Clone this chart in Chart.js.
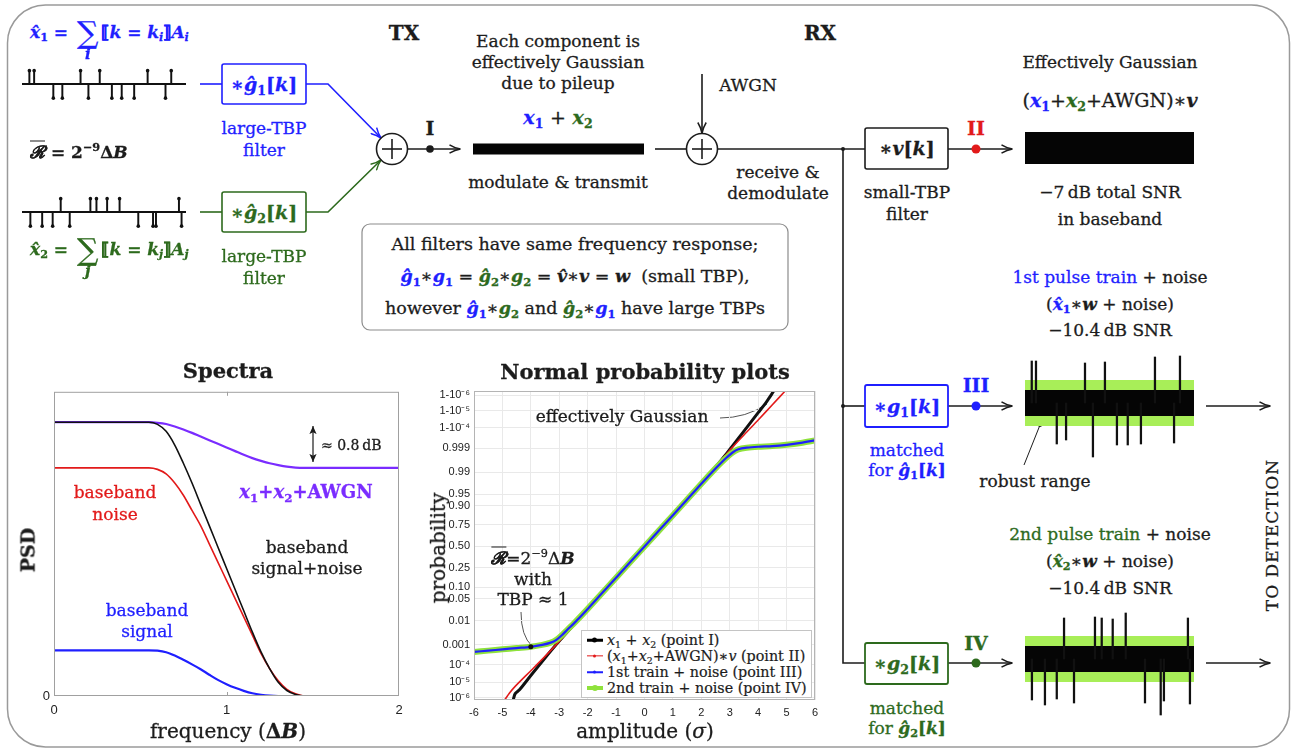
<!DOCTYPE html>
<html>
<head>
<meta charset="utf-8">
<script src="https://cdn.jsdelivr.net/npm/chart.js@4.4.1/dist/chart.umd.min.js"></script>
<style>
html, body { margin: 0; padding: 0; background: #fff; }
#page { position: relative; width: 1299px; height: 751px; overflow: hidden; font-family: 'DejaVu Serif', 'Liberation Serif', serif; color: #1c1c1c; }
svg { position: absolute; left: 0; top: 0; }
.c { position: absolute; }
.t { position: absolute; transform: translate(-50%, -50%); white-space: nowrap; line-height: 1; font-size: 17px; -webkit-text-stroke: 0.3px currentColor; }
.t.l { transform: translate(0, -50%); }
.t.rot { transform: translate(-50%, -50%) rotate(-90deg); }
.m { font-style: italic; font-weight: bold; }
.n { font-style: normal; }
sub { font-size: 0.66em; vertical-align: -0.32em; line-height: 0; font-style: normal; }
sup { font-size: 0.66em; vertical-align: 0.6em; line-height: 0; }
.sig { position: relative; display: inline-block; font-size: 30px; font-style: normal; font-weight: normal; vertical-align: -0.18em; margin: 0 3px; }
.idx { position: absolute; left: 50%; top: 95%; transform: translateX(-50%); font-size: 15px; font-style: italic; font-weight: bold; }
.blue { color: #1f1fff; } .green { color: #2d6a1d; } .red { color: #e21a1a; } .purple { color: #7a2cff; } .blk { color: #1c1c1c; }
#legend { position: absolute; left: 581px; top: 630px; width: 229px; height: 66px; border: 1px solid #c4c4c4; background: #fff; font-size: 14.3px; }
.lg { position: absolute; left: 0; height: 16px; width: 100%; }
.ls { position: absolute; left: 5px; width: 16px; top: 50%; transform: translateY(-50%); }
.ld { position: absolute; left: 10px; width: 5px; height: 5px; border-radius: 50%; top: 50%; transform: translateY(-50%); }
.lt { position: absolute; left: 25px; top: 50%; transform: translateY(-50%); white-space: nowrap; line-height: 1; -webkit-text-stroke: 0.2px currentColor; }
</style>
</head>
<body>
<div id="page">
<svg width="1299" height="751">
  <defs>
    <marker id="ak" viewBox="0 0 12 10" refX="11" refY="5" markerWidth="12" markerHeight="10" markerUnits="userSpaceOnUse" orient="auto"><path d="M0.5,0.8 Q6,4.2 11.5,5 Q6,5.8 0.5,9.2" fill="none" stroke="#1c1c1c" stroke-width="1.5"/></marker>
    <marker id="ab" viewBox="0 0 12 10" refX="11" refY="5" markerWidth="12" markerHeight="10" markerUnits="userSpaceOnUse" orient="auto"><path d="M0.5,0.8 Q6,4.2 11.5,5 Q6,5.8 0.5,9.2" fill="none" stroke="#1f1fff" stroke-width="1.5"/></marker>
    <marker id="ag" viewBox="0 0 12 10" refX="11" refY="5" markerWidth="12" markerHeight="10" markerUnits="userSpaceOnUse" orient="auto"><path d="M0.5,0.8 Q6,4.2 11.5,5 Q6,5.8 0.5,9.2" fill="none" stroke="#2d6a1d" stroke-width="1.5"/></marker>
    <marker id="as" viewBox="0 0 10 10" refX="9" refY="5" markerWidth="9" markerHeight="9" markerUnits="userSpaceOnUse" orient="auto-start-reverse"><path d="M0,1 L9,5 L0,9 L2,5 Z" fill="#1c1c1c"/></marker>
  </defs>
  <rect x="7.5" y="5" width="1282" height="742" rx="38" fill="none" stroke="#9a9a9a" stroke-width="1.5"/>
  <g stroke="#1f1fff" stroke-width="1.6" fill="none">
    <line x1="200" y1="84" x2="222" y2="84"/>
    <rect x="222" y="64" width="84" height="40" rx="2"/>
    <polyline points="306,84 328,84 381,138" marker-end="url(#ab)"/>
  </g>
  <g stroke="#2d6a1d" stroke-width="1.6" fill="none">
    <line x1="200" y1="212" x2="222" y2="212"/>
    <rect x="222" y="192" width="84" height="40" rx="2"/>
    <polyline points="306,212 328,212 381,160" marker-end="url(#ag)"/>
  </g>
  <g stroke="#1c1c1c" stroke-width="1.6" fill="none">
    <circle cx="392" cy="149" r="15.5"/>
    <line x1="382" y1="149" x2="402" y2="149"/><line x1="392" y1="139" x2="392" y2="159"/>
    <line x1="407.5" y1="149" x2="460" y2="149" marker-end="url(#ak)"/>
    <line x1="655" y1="149" x2="686.5" y2="149"/>
    <circle cx="702" cy="149" r="15.5"/>
    <line x1="692" y1="149" x2="712" y2="149"/><line x1="702" y1="139" x2="702" y2="159"/>
    <line x1="702" y1="74" x2="702" y2="133" marker-end="url(#ak)"/>
    <line x1="717.5" y1="149" x2="865" y2="149"/>
    <rect x="865" y="128" width="83" height="41" rx="2"/>
    <line x1="948" y1="149" x2="1012" y2="149" marker-end="url(#ak)"/>
    <polyline points="843,149 843,663 865,663"/>
    <line x1="843" y1="406" x2="865" y2="406"/>
    <line x1="948" y1="406" x2="1012" y2="406" marker-end="url(#ak)"/>
    <line x1="948" y1="663" x2="1012" y2="663" marker-end="url(#ak)"/>
    <line x1="1206" y1="406" x2="1270" y2="406" marker-end="url(#ak)"/>
    <line x1="1206" y1="663" x2="1270" y2="663" marker-end="url(#ak)"/>
    <line x1="1040" y1="425" x2="1024" y2="465" stroke-width="1"/>
  </g>
  <rect x="865" y="385" width="83" height="42" rx="2" fill="none" stroke="#1f1fff" stroke-width="1.8"/>
  <rect x="865" y="643" width="83" height="41" rx="2" fill="none" stroke="#2d6a1d" stroke-width="1.8"/>
  <circle cx="430" cy="149" r="3.8" fill="#1c1c1c"/>
  <circle cx="843" cy="149" r="2" fill="#1c1c1c"/>
  <circle cx="843" cy="406" r="2" fill="#1c1c1c"/>
  <circle cx="976" cy="149" r="4.5" fill="#e21a1a"/>
  <circle cx="976" cy="406" r="4.5" fill="#1f1fff"/>
  <circle cx="976" cy="663" r="4.5" fill="#2d6a1d"/>
  <circle cx="1040" cy="425" r="2" fill="#1c1c1c"/>
  <rect x="362" y="224" width="426" height="106" rx="8" fill="none" stroke="#8c8c8c" stroke-width="1.2"/>
  <line x1="313" y1="426" x2="313" y2="462" stroke="#1c1c1c" stroke-width="1.2" marker-start="url(#as)" marker-end="url(#as)"/>
  <path d="M720,418 Q746,418 767,404" fill="none" stroke="#555" stroke-width="1"/>
  <path d="M521,612 Q521,636 532,646" fill="none" stroke="#555" stroke-width="1"/>
</svg>

<div class="c" style="left:18px;top:60px;width:172px;height:48px"><canvas id="train1"></canvas></div>
<div class="c" style="left:18px;top:188px;width:172px;height:48px"><canvas id="train2"></canvas></div>
<div class="c" style="left:473px;top:139px;width:171px;height:20px"><canvas id="traceI"></canvas></div>
<div class="c" style="left:1025px;top:118px;width:169px;height:60px"><canvas id="traceII"></canvas></div>
<div class="c" style="left:1025px;top:343px;width:169px;height:120px"><canvas id="traceIII"></canvas></div>
<div class="c" style="left:1025px;top:599px;width:169px;height:120px"><canvas id="traceIV"></canvas></div>
<div class="c" style="left:20px;top:380px;width:390px;height:340px"><canvas id="spectra"></canvas></div>
<div class="c" style="left:410px;top:380px;width:415px;height:345px"><canvas id="normplot"></canvas></div>

<div class="t l blue m" style="left:30px;top:33px">x&#770;<sub>1</sub> = <span class="sig">&sum;<span class="idx">i</span></span><span class="n">&#10214;</span>k = k<sub class="m">i</sub><span class="n">&#10215;</span>A<sub class="m">i</sub></div>
<div class="t l m blk" style="left:30px;top:152px"><span style="text-decoration:overline">&#8475;</span> <span class="n">=</span> <span class="n">2<sup>&minus;9</sup>&Delta;</span>B</div>
<div class="t l green m" style="left:30px;top:250px">x&#770;<sub>2</sub> = <span class="sig">&sum;<span class="idx">j</span></span><span class="n">&#10214;</span>k = k<sub class="m">j</sub><span class="n">&#10215;</span>A<sub class="m">j</sub></div>

<div class="t blue m" style="left:264px;top:84px;font-size:19px"><span class="n">&lowast;</span>&#285;<sub>1</sub><span class="n">[</span>k<span class="n">]</span></div>
<div class="t green m" style="left:264px;top:212px;font-size:19px"><span class="n">&lowast;</span>&#285;<sub>2</sub><span class="n">[</span>k<span class="n">]</span></div>
<div class="t blue" style="left:264px;top:128px">large-TBP</div>
<div class="t blue" style="left:264px;top:150px">filter</div>
<div class="t green" style="left:264px;top:256px">large-TBP</div>
<div class="t green" style="left:264px;top:278px">filter</div>

<div class="t" style="left:404px;top:33px;font-size:20px;font-weight:bold">TX</div>
<div class="t" style="left:820px;top:33px;font-size:20px;font-weight:bold">RX</div>
<div class="t" style="left:430px;top:128px;font-size:19px;font-weight:bold">I</div>
<div class="t red" style="left:976px;top:128px;font-size:19px;font-weight:bold">II</div>
<div class="t blue" style="left:976px;top:385px;font-size:19px;font-weight:bold">III</div>
<div class="t green" style="left:976px;top:643px;font-size:19px;font-weight:bold">IV</div>

<div class="t" style="left:558px;top:41px">Each component is</div>
<div class="t" style="left:558px;top:62px">effectively Gaussian</div>
<div class="t" style="left:558px;top:83px">due to pileup</div>
<div class="t m" style="left:558px;top:117px;font-size:19px"><span class="blue">x<sub>1</sub></span> <span class="n" style="font-weight:normal">+</span> <span class="green">x<sub>2</sub></span></div>
<div class="t" style="left:558px;top:182px">modulate &amp; transmit</div>
<div class="t" style="left:748px;top:85px">AWGN</div>
<div class="t" style="left:778px;top:172px">receive &amp;</div>
<div class="t" style="left:778px;top:193px">demodulate</div>

<div class="t m" style="left:907px;top:148px;font-size:19px"><span class="n">&lowast;</span>v<span class="n">[</span>k<span class="n">]</span></div>
<div class="t" style="left:907px;top:192px">small-TBP</div>
<div class="t" style="left:907px;top:214px">filter</div>
<div class="t blue m" style="left:907px;top:406px;font-size:19px"><span class="n">&lowast;</span>g<sub>1</sub><span class="n">[</span>k<span class="n">]</span></div>
<div class="t blue" style="left:907px;top:450px">matched</div>
<div class="t blue" style="left:907px;top:470px">for <span class="m">&#285;<sub>1</sub><span class="n">[</span>k<span class="n">]</span></span></div>
<div class="t green m" style="left:907px;top:663px;font-size:19px"><span class="n">&lowast;</span>g<sub>2</sub><span class="n">[</span>k<span class="n">]</span></div>
<div class="t green" style="left:907px;top:708px">matched</div>
<div class="t green" style="left:907px;top:728px">for <span class="m">&#285;<sub>2</sub><span class="n">[</span>k<span class="n">]</span></span></div>

<div class="t" style="left:1110px;top:62px">Effectively Gaussian</div>
<div class="t" style="left:1110px;top:100px;font-size:19px">(<span class="m blue">x<sub>1</sub></span>+<span class="m green">x<sub>2</sub></span>+AWGN)&lowast;<span class="m">v</span></div>
<div class="t" style="left:1110px;top:192px">&minus;7&#8201;dB total SNR</div>
<div class="t" style="left:1110px;top:219px">in baseband</div>
<div class="t" style="left:1110px;top:277px"><span class="blue">1st pulse train</span> + noise</div>
<div class="t" style="left:1110px;top:304px">(<span class="m blue">x&#770;<sub>1</sub></span>&lowast;<span class="m">w</span> + noise)</div>
<div class="t" style="left:1110px;top:330px">&minus;10.4&#8201;dB SNR</div>
<div class="t" style="left:1035px;top:481px">robust range</div>
<div class="t" style="left:1110px;top:534px"><span class="green">2nd pulse train</span> + noise</div>
<div class="t" style="left:1110px;top:561px">(<span class="m green">x&#770;<sub>2</sub></span>&lowast;<span class="m">w</span> + noise)</div>
<div class="t" style="left:1110px;top:588px">&minus;10.4&#8201;dB SNR</div>
<div class="t rot" style="left:1272px;top:535px;letter-spacing:1px">TO DETECTION</div>

<div class="t" style="left:575px;top:245px;font-size:17.5px">All filters have same frequency response;</div>
<div class="t" style="left:575px;top:277px;font-size:17.5px"><span class="m blue">&#285;<sub>1</sub></span>&lowast;<span class="m blue">g<sub>1</sub></span> = <span class="m green">&#285;<sub>2</sub></span>&lowast;<span class="m green">g<sub>2</sub></span> = <span class="m">v&#770;</span>&lowast;<span class="m">v</span> = <span class="m">w</span> &nbsp;(small TBP),</div>
<div class="t" style="left:575px;top:309px;font-size:17.5px">however <span class="m blue">&#285;<sub>1</sub></span>&lowast;<span class="m green">g<sub>2</sub></span> and <span class="m green">&#285;<sub>2</sub></span>&lowast;<span class="m blue">g<sub>1</sub></span> have large TBPs</div>

<div class="t" style="left:228px;top:370px;font-size:21px;font-weight:bold">Spectra</div>
<div class="t rot" style="left:28px;top:550px;font-size:19px;font-weight:bold">PSD</div>
<div class="t" style="left:228px;top:731px;font-size:20px">frequency (<b>&Delta;</b><span class="m">B</span>)</div>
<div class="t l" style="left:321px;top:445px;font-size:14px">&asymp; 0.8&#8201;dB</div>
<div class="t purple" style="left:306px;top:492px;font-size:18px;font-weight:bold"><i>x</i><sub>1</sub>+<i>x</i><sub>2</sub>+AWGN</div>
<div class="t red" style="left:115px;top:492px">baseband</div>
<div class="t red" style="left:115px;top:514px">noise</div>
<div class="t" style="left:307px;top:547px">baseband</div>
<div class="t" style="left:307px;top:568px">signal+noise</div>
<div class="t blue" style="left:147px;top:610px">baseband</div>
<div class="t blue" style="left:147px;top:631px">signal</div>

<div class="t" style="left:645px;top:371px;font-size:21px;font-weight:bold">Normal probability plots</div>
<div class="t rot" style="left:438px;top:548px;font-size:20px">probability</div>
<div class="t" style="left:645px;top:731px;font-size:20px">amplitude (<span class="m" style="font-weight:normal">&sigma;</span>)</div>
<div class="t" style="left:622px;top:416px">effectively Gaussian</div>
<div class="t" style="left:533px;top:558px"><span class="m"><span style="text-decoration:overline">&#8475;</span></span>=2<sup>&minus;9</sup>&Delta;<span class="m">B</span></div>
<div class="t" style="left:533px;top:579px">with</div>
<div class="t" style="left:533px;top:599px">TBP &asymp; 1</div>

<div id="legend">
  <div class="lg" style="top:1px"><span class="ls" style="background:#000;height:2.5px"></span><span class="ld" style="background:#000"></span><span class="lt"><i>x</i><sub>1</sub> + <i>x</i><sub>2</sub> (point I)</span></div>
  <div class="lg" style="top:17px"><span class="ls" style="background:#e21a1a;height:1.3px"></span><span class="ld" style="background:#e21a1a;width:3px;height:3px;left:11px"></span><span class="lt">(<i>x</i><sub>1</sub>+<i>x</i><sub>2</sub>+AWGN)&lowast;<i>v</i> (point II)</span></div>
  <div class="lg" style="top:33px"><span class="ls" style="background:#1f1fff;height:1.5px"></span><span class="ld" style="background:#1f1fff;width:3px;height:3px;left:11px"></span><span class="lt">1st train + noise (point III)</span></div>
  <div class="lg" style="top:49px"><span class="ls" style="background:#8fe23c;height:4px"></span><span class="ld" style="background:#8fe23c;width:6px;height:6px;left:10px"></span><span class="lt">2nd train + noise (point IV)</span></div>
</div>
</div>

<script>
// ─── Spectra (PSD vs frequency in units of ΔB, PSD normalised to plot height) ───
const FREQ      = [0, 0.55, 0.6, 0.65, 0.7, 0.75, 0.8, 0.85, 0.9, 0.95, 1.0, 1.05, 1.1, 1.15, 1.2, 1.25, 1.3, 1.35, 1.4, 1.45, 1.5, 2.0];
const PSD_RX    = [0.90, 0.90, 0.898, 0.894, 0.886, 0.876, 0.865, 0.853, 0.841, 0.829, 0.817, 0.805, 0.793, 0.782, 0.773, 0.765, 0.759, 0.754, 0.751, 0.75, 0.75, 0.75];
const PSD_BB    = [0.90, 0.90, 0.893, 0.87, 0.825, 0.765, 0.70, 0.63, 0.56, 0.49, 0.42, 0.35, 0.28, 0.21, 0.145, 0.09, 0.045, 0.018, 0.005, 0, 0, 0];
const PSD_NOISE = [0.75, 0.75, 0.745, 0.73, 0.70, 0.66, 0.61, 0.56, 0.50, 0.44, 0.38, 0.32, 0.26, 0.20, 0.14, 0.09, 0.05, 0.022, 0.007, 0, 0, 0];
const PSD_SIG   = [0.15, 0.15, 0.149, 0.144, 0.133, 0.119, 0.104, 0.088, 0.07, 0.053, 0.039, 0.027, 0.017, 0.009, 0.004, 0.001, 0, 0, 0, 0, 0, 0];

// ─── Normal probability plots (amplitude in σ, y = Gaussian quantile) ───
const PROB_TICKS  = [1e-6, 1e-5, 1e-4, 0.001, 0.01, 0.05, 0.10, 0.25, 0.50, 0.75, 0.90, 0.95, 0.99, 0.999, 1 - 1e-4, 1 - 1e-5, 1 - 1e-6];
const PROB_LABELS = ['10\u207B\u2076', '10\u207B\u2075', '10\u207B\u2074', '0.001', '0.01', '0.05', '0.10', '0.25', '0.50', '0.75', '0.90', '0.95', '0.99', '0.999', '1-10\u207B\u2074', '1-10\u207B\u2075', '1-10\u207B\u2076'];
const AMP_I  = [-4.62, -4.55, -4.4, -4.0, -3.5, -3.0, -2.0, -1.0, 0, 1.0, 2.0, 2.9, 3.5, 4.0, 4.3, 4.55];
const Q_I    = [-4.82, -4.62, -4.5, -4.05, -3.5, -2.97, -1.97, -0.98, 0, 0.98, 1.97, 2.93, 3.62, 4.2, 4.55, 4.88];
const AMP_II = [-4.92, -4.75, -4.56, -4.0, -3.5, -3.0, -2.0, 0, 2.0, 2.9, 3.5, 4.0, 4.5, 4.95];
const Q_II   = [-4.82, -4.6, -4.4, -3.9, -3.45, -2.98, -1.98, 0, 1.98, 2.92, 3.5, 3.97, 4.45, 4.88];
const AMP_III = [-6, -5.5, -5, -4.5, -4, -3.6, -3.3, -3.1, -2.9, -2.7, -2.5, -2, -1, 0, 1, 2, 2.5, 2.7, 2.9, 3.1, 3.3, 3.6, 4, 4.5, 5, 5.5, 6];
const Q_III   = [-3.31, -3.27, -3.23, -3.19, -3.15, -3.09, -3.02, -2.93, -2.78, -2.6, -2.43, -1.96, -0.98, 0, 0.98, 1.97, 2.45, 2.63, 2.8, 2.95, 3.05, 3.1, 3.13, 3.15, 3.19, 3.25, 3.33];
const Q_IV    = [-3.31, -3.27, -3.23, -3.19, -3.15, -3.09, -3.02, -2.93, -2.78, -2.6, -2.43, -1.96, -0.98, 0, 0.98, 1.97, 2.45, 2.63, 2.8, 2.95, 3.05, 3.1, 3.13, 3.15, 3.19, 3.25, 3.33];
const MARK_AMP = [-4];
const MARK_Q   = [-3.15];

// ─── Impulse trains (positions on a 0..100 time axis, signed stem heights) ───
const TRAIN1_X = [4.5, 7.4, 35.7, 47.4, 76.6, 91.0, 19.1, 24.6, 40.5, 54.8, 60.8, 68.4, 87.5];
const TRAIN1_A = [16, 16, 16, 16, 16, 16, -17, -17, -17, -17, -17, -17, -17];
const TRAIN2_X = [23.6, 41.7, 45.4, 51.9, 59.5, 95.7, 5.1, 12.3, 18.7, 29.1, 70.9, 79.9, 81.7, 97.3];
const TRAIN2_A = [16, 16, 16, 16, 16, 16, -17, -17, -17, -17, -17, -17, -17, -17];

// ─── Matched-filter outputs: pulse spikes above the noise ───
const SPIKE3_X = [4.0, 6.5, 35.5, 47.3, 76.9, 91.7, 18.8, 24.3, 40.2, 54.4, 60.8, 68.6, 88.2];
const SPIKE3_A = [42, 42, 40, 41, 46, 47, -41, -37, -54, -42, -42, -41, -40];
const SPIKE4_X = [23.1, 41.4, 45.4, 51.9, 59.6, 96.4, 4.1, 11.8, 18.8, 29.0, 71.0, 80.3, 82.2, 97.6];
const SPIKE4_A = [41, 42, 41, 40, 46, 41, -41, -46, -40, -44, -44, -56, -42, -45];

const TICK_FONT = { family: "'Liberation Sans', Arial, sans-serif", size: 11 };
const BLUE = '#1f1fff', RED = '#e21a1a', PURPLE = '#7a2cff', LIME = '#8fe23c';

// inverse normal CDF (Acklam) — maps probabilities onto the quantile axis
function probit(p) {
  const a = [-3.969683028665376e+01, 2.209460984245205e+02, -2.759285104469687e+02, 1.383577518672690e+02, -3.066479806614716e+01, 2.506628277459239e+00];
  const b = [-5.447609879822406e+01, 1.615858368580409e+02, -1.556989798598866e+02, 6.680131188771972e+01, -1.328068155288572e+01];
  const c = [-7.784894002430293e-03, -3.223964580411365e-01, -2.400758277161838e+00, -2.549732539343734e+00, 4.374664141464968e+00, 2.938163982698783e+00];
  const d = [7.784695709041462e-03, 3.224671290700398e-01, 2.445134137142996e+00, 3.754408661907416e+00];
  const tail = q => (((((c[0]*q+c[1])*q+c[2])*q+c[3])*q+c[4])*q+c[5]) / ((((d[0]*q+d[1])*q+d[2])*q+d[3])*q+1);
  if (p < 0.02425) return tail(Math.sqrt(-2 * Math.log(p)));
  if (p > 1 - 0.02425) return -tail(Math.sqrt(-2 * Math.log(1 - p)));
  const q = p - 0.5, r = q * q;
  return (((((a[0]*r+a[1])*r+a[2])*r+a[3])*r+a[4])*r+a[5])*q / (((((b[0]*r+b[1])*r+b[2])*r+b[3])*r+b[4])*r+1);
}

const pts = (xs, ys) => xs.map((x, i) => ({ x, y: ys[i] }));

// plot frame (all four sides) with optional inner ticks
const framePlugin = {
  id: 'frame',
  afterDatasetsDraw(chart, args, opts) {
    const { ctx, chartArea: a } = chart;
    ctx.save();
    ctx.strokeStyle = opts.color || '#999';
    ctx.lineWidth = 1;
    ctx.strokeRect(a.left + 0.5, a.top + 0.5, a.width - 1, a.height - 1);
    (opts.xTicks || []).forEach(v => {
      const px = Math.round(chart.scales.x.getPixelForValue(v)) + 0.5;
      ctx.beginPath();
      ctx.moveTo(px, a.top); ctx.lineTo(px, a.top + 4);
      ctx.moveTo(px, a.bottom); ctx.lineTo(px, a.bottom - 4);
      ctx.stroke();
    });
    ctx.restore();
  }
};

function flatBand(width, color, order) {
  return { type: 'line', data: [{ x: 0, y: 0 }, { x: 100, y: 0 }], borderColor: color, borderWidth: width, pointRadius: 0, borderCapStyle: 'butt', order };
}

// ─── Small trace: stems / noise band / robust-range band ───
function createTrace(canvasId, cfg) {
  const ctx = document.getElementById(canvasId);
  if (!ctx) return;
  const datasets = [];
  if (cfg.xs) {
    datasets.push({ type: 'bar', data: pts(cfg.xs, cfg.ys), backgroundColor: '#111', barThickness: cfg.stemWidth || 1.5, order: 1 });
    if (cfg.dots) datasets.push({ type: 'scatter', data: pts(cfg.xs, cfg.ys), pointRadius: cfg.dots, backgroundColor: '#111', borderWidth: 0, order: 0 });
  }
  if (cfg.baseline) datasets.push(flatBand(cfg.baseline, '#111', 2));
  if (cfg.core) datasets.push(flatBand(cfg.core, '#050505', 2));
  if (cfg.band) datasets.push(flatBand(cfg.band, '#a8ee58', 4));
  return new Chart(ctx, {
    type: 'bar',
    data: { datasets },
    options: {
      responsive: true, maintainAspectRatio: false, animation: false,
      layout: { padding: 0 },
      plugins: { legend: { display: false }, tooltip: { enabled: false } },
      scales: {
        x: { type: 'linear', min: 0, max: 100, display: false, offset: false },
        y: { min: -cfg.half, max: cfg.half, display: false }
      }
    }
  });
}

createTrace('train1', { xs: TRAIN1_X, ys: TRAIN1_A, dots: 1.8, baseline: 2.2, half: 24, stemWidth: 1.3 });
createTrace('train2', { xs: TRAIN2_X, ys: TRAIN2_A, dots: 1.8, baseline: 2.2, half: 24, stemWidth: 1.3 });
createTrace('traceI', { core: 11, half: 10 });
createTrace('traceII', { core: 32, half: 30 });
createTrace('traceIII', { xs: SPIKE3_X, ys: SPIKE3_A, core: 26, band: 46, half: 60, stemWidth: 1.6 });
createTrace('traceIV', { xs: SPIKE4_X, ys: SPIKE4_A, core: 26, band: 46, half: 60, stemWidth: 1.6 });

// ─── Spectra ───
function createSpectraChart(canvasId) {
  const ctx = document.getElementById(canvasId);
  if (!ctx) return;
  const line = (ys, color, width) => ({
    data: pts(FREQ, ys), borderColor: color, borderWidth: width, pointRadius: 0, cubicInterpolationMode: 'monotone'
  });
  return new Chart(ctx, {
    type: 'line',
    data: { datasets: [line(PSD_BB, '#111', 1.6), line(PSD_NOISE, RED, 1.6), line(PSD_SIG, BLUE, 2.2), line(PSD_RX, PURPLE, 2.2)] },
    options: {
      responsive: true, maintainAspectRatio: false, animation: false,
      layout: { padding: { top: 10, right: 11, left: 0, bottom: 0 } },
      plugins: { legend: { display: false }, tooltip: { enabled: false }, frame: { color: '#a0a0a0', xTicks: [1] } },
      scales: {
        x: {
          type: 'linear', min: 0, max: 2,
          grid: { display: false, drawTicks: false }, border: { display: false },
          ticks: { stepSize: 1, color: '#222', font: { ...TICK_FONT, size: 13 }, padding: 7, maxRotation: 0 },
          afterFit: s => { s.height = 24; }
        },
        y: {
          min: 0, max: 1,
          grid: { display: false, drawTicks: false }, border: { display: false },
          afterBuildTicks: axis => { axis.ticks = [{ value: 0 }]; },
          ticks: { color: '#222', font: { ...TICK_FONT, size: 13 }, padding: 4 },
          afterFit: s => { s.width = 34; }
        }
      }
    },
    plugins: [framePlugin]
  });
}

// ─── Normal probability plot ───
function createNormPlot(canvasId) {
  const ctx = document.getElementById(canvasId);
  if (!ctx) return;
  const line = (xs, ys, color, width) => ({ data: pts(xs, ys), borderColor: color, borderWidth: width, pointRadius: 0, tension: 0.3 });
  return new Chart(ctx, {
    type: 'line',
    data: {
      datasets: [
        { data: pts(MARK_AMP, MARK_Q), showLine: false, pointRadius: 2.5, pointBackgroundColor: '#111', pointBorderWidth: 0 },
        line(AMP_III, Q_III, BLUE, 2.2),
        line(AMP_III, Q_IV, LIME, 6),
        line(AMP_II, Q_II, RED, 1.6),
        line(AMP_I, Q_I, '#111', 3)
      ]
    },
    options: {
      responsive: true, maintainAspectRatio: false, animation: false,
      layout: { padding: { top: 11, right: 10, left: 0, bottom: 0 } },
      plugins: { legend: { display: false }, tooltip: { enabled: false }, frame: { color: '#b4b4b4' } },
      scales: {
        x: {
          type: 'linear', min: -6, max: 6,
          grid: { color: '#e9e9e9', drawTicks: false }, border: { display: false },
          ticks: { stepSize: 1, color: '#222', font: TICK_FONT, padding: 6, maxRotation: 0 },
          afterFit: s => { s.height = 25; }
        },
        y: {
          min: -4.82, max: 4.88,
          grid: { color: '#e9e9e9', drawTicks: false }, border: { display: false },
          afterBuildTicks: axis => { axis.ticks = PROB_TICKS.map(p => ({ value: probit(p) })); },
          ticks: { autoSkip: false, color: '#222', font: TICK_FONT, padding: 4, callback: (v, i) => PROB_LABELS[i] },
          afterFit: s => { s.width = 64; }
        }
      }
    },
    plugins: [framePlugin]
  });
}

createSpectraChart('spectra');
createNormPlot('normplot');
</script>
</body>
</html>
